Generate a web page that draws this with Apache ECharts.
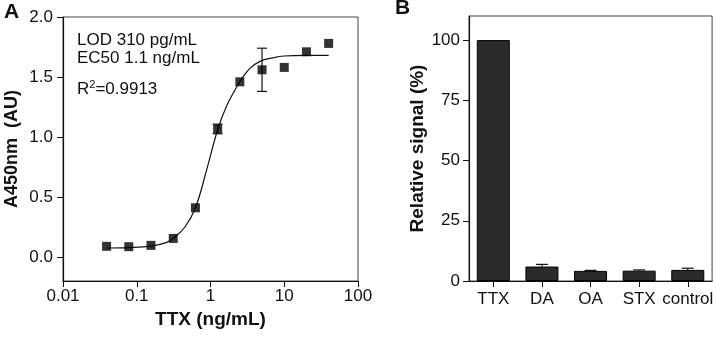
<!DOCTYPE html>
<html>
<head>
<meta charset="utf-8">
<script src="https://cdn.jsdelivr.net/npm/echarts@6/dist/echarts.min.js"></script>
<style>
  html, body { margin: 0; padding: 0; background: #fff; }
  #main { width: 716px; height: 338px; }
</style>
</head>
<body>
<div id="main"></div>
<script>
    // panel A - dose response
    var concX = [0.039, 0.078, 0.156, 0.3125, 0.625, 1.25, 2.5, 5, 10, 20, 40];
    var absorb = [0.089, 0.086, 0.097, 0.155, 0.41, 1.067, 1.46, 1.56, 1.58, 1.71, 1.78];
    var absorbErr = [0, 0, 0, 0, 0, 0.04, 0, 0.18, 0, 0, 0];
    // fitted curve
    var fitX = [0.039, 0.078, 0.156, 0.25, 0.3125, 0.45, 0.625, 0.89, 1.25, 1.66, 2.5, 3.4, 4.7, 7, 10, 20, 40];
    var fitY = [0.075, 0.078, 0.09, 0.12, 0.155, 0.25, 0.41, 0.73, 1.06, 1.26, 1.46, 1.57, 1.63, 1.66, 1.675, 1.68, 1.68];
    var xTicks = [0.01, 0.1, 1, 10, 100];
    var yTicksA = [0, 0.5, 1, 1.5, 2];

    // panel B - specificity
    var agents = ['TTX', 'DA', 'OA', 'STX', 'control'];
    var signal = [100, 6.0, 4.2, 4.3, 4.6];
    var signalErr = [0, 0.9, 0.2, 0.3, 0.7];
    var yTicksB = [0, 25, 50, 75, 100];

    var font = 'Liberation Sans, Arial, sans-serif';
    var chart = echarts.init(document.getElementById('main'));

    var fitData = fitX.map(function (x, i) { return [x, fitY[i]]; });
    var pointData = concX.map(function (x, i) { return [x, absorb[i], absorbErr[i]]; });
    var barErrData = agents.map(function (a, i) { return [i, signal[i], signalErr[i]]; });

    function errA(params, api) {
        var x = api.value(0), y = api.value(1), e = api.value(2);
        if (!e) return null;
        var top = api.coord([x, y + e]);
        var bot = api.coord([x, y - e]);
        var w = 5;
        var st = { stroke: '#111', lineWidth: 1.2 };
        return {
            type: 'group',
            children: [
                { type: 'line', shape: { x1: top[0], y1: top[1], x2: bot[0], y2: bot[1] }, style: st },
                { type: 'line', shape: { x1: top[0] - w, y1: top[1], x2: top[0] + w, y2: top[1] }, style: st },
                { type: 'line', shape: { x1: bot[0] - w, y1: bot[1], x2: bot[0] + w, y2: bot[1] }, style: st }
            ]
        };
    }

    function errB(params, api) {
        var i = api.value(0), y = api.value(1), e = api.value(2);
        if (!e) return null;
        var top = api.coord([i, y + e]);
        var mid = api.coord([i, y]);
        var w = 6;
        var st = { stroke: '#111', lineWidth: 1.2 };
        return {
            type: 'group',
            children: [
                { type: 'line', shape: { x1: top[0], y1: top[1], x2: mid[0], y2: mid[1] }, style: st },
                { type: 'line', shape: { x1: top[0] - w, y1: top[1], x2: top[0] + w, y2: top[1] }, style: st }
            ]
        };
    }

    var titleStyle = { fontSize: 18, fontWeight: 'bold', color: '#111', fontFamily: font };

    var option = {
        animation: false,
        textStyle: { fontFamily: font },
        grid: [
            { left: 63, right: 358, top: 17, bottom: 57, show: true, borderColor: '#444', borderWidth: 1 },
            { left: 469, right: 1, top: 16, bottom: 57, show: true, borderColor: '#444', borderWidth: 1 }
        ],
        xAxis: [
            {
                gridIndex: 0, type: 'log', logBase: 10, min: 0.01, max: 100,
                name: 'TTX (ng/mL)', nameLocation: 'middle', nameGap: 27,
                nameTextStyle: { fontSize: 19, fontWeight: 'bold', color: '#111', fontFamily: font },
                axisLine: { onZero: false, lineStyle: { color: '#111', width: 1.2 } },
                axisTick: { show: true, length: 6, lineStyle: { color: '#111' }, customValues: xTicks },
                axisLabel: {
                    fontSize: 17, color: '#111', margin: 7, customValues: xTicks,
                    formatter: function (v) { return String(v); }
                },
                splitLine: { show: false },
                minorTick: { show: false }
            },
            {
                gridIndex: 1, type: 'category', data: agents,
                axisLine: { onZero: false, lineStyle: { color: '#111', width: 1.2 } },
                axisTick: { show: true, alignWithLabel: true, length: 6, lineStyle: { color: '#111' } },
                axisLabel: { fontSize: 17, color: '#111', margin: 10, interval: 0 }
            }
        ],
        yAxis: [
            {
                gridIndex: 0, type: 'value', min: -0.2, max: 2.0,
                name: 'A450nm  (AU)', nameLocation: 'middle', nameGap: 42,
                nameTextStyle: titleStyle,
                axisLine: { show: true, lineStyle: { color: '#111', width: 1.2 } },
                axisTick: { show: true, length: 6, lineStyle: { color: '#111' }, customValues: yTicksA },
                axisLabel: {
                    fontSize: 17, color: '#111', margin: 10, customValues: yTicksA,
                    formatter: function (v) { return v.toFixed(1); }
                },
                splitLine: { show: false }
            },
            {
                gridIndex: 1, type: 'value', min: 0, max: 110,
                name: 'Relative signal (%)', nameLocation: 'middle', nameGap: 38,
                nameTextStyle: { fontSize: 19, fontWeight: 'bold', color: '#111', fontFamily: font },
                axisLine: { show: true, lineStyle: { color: '#111', width: 1.2 } },
                axisTick: { show: true, length: 6, lineStyle: { color: '#111' }, customValues: yTicksB },
                axisLabel: { fontSize: 17, color: '#111', margin: 9, customValues: yTicksB },
                splitLine: { show: false }
            }
        ],
        graphic: [
            { type: 'text', left: 4, top: 2, style: { text: 'A', font: 'bold 21px ' + font, fill: '#111' } },
            { type: 'text', left: 395, top: -2, style: { text: 'B', font: 'bold 21px ' + font, fill: '#111' } },
            { type: 'text', left: 77, top: 32, style: { text: 'LOD 310 pg/mL', font: '17px ' + font, fill: '#111' } },
            { type: 'text', left: 77, top: 50, style: { text: 'EC50 1.1 ng/mL', font: '17px ' + font, fill: '#111' } },
            {
                type: 'text', left: 77, top: 79,
                style: {
                    text: 'R{s|2}=0.9913', font: '17px ' + font, fill: '#111',
                    rich: { s: { fontSize: 11, verticalAlign: 'top', padding: [0, 0, 9, 0], fontFamily: font } }
                }
            }
        ],
        series: [
            {
                type: 'line', xAxisIndex: 0, yAxisIndex: 0, data: fitData,
                smooth: 0.4, showSymbol: false, symbol: 'none',
                lineStyle: { color: '#111', width: 1.2 }, z: 2
            },
            {
                type: 'custom', xAxisIndex: 0, yAxisIndex: 0, data: pointData,
                renderItem: errA, z: 3
            },
            {
                type: 'scatter', xAxisIndex: 0, yAxisIndex: 0, data: pointData,
                symbol: 'rect', symbolSize: 9, itemStyle: { color: '#000' }, z: 4
            },
            {
                type: 'bar', xAxisIndex: 1, yAxisIndex: 1, data: signal, barWidth: 33,
                itemStyle: { color: '#2b2b2b', borderColor: '#000', borderWidth: 1 }, z: 2
            },
            {
                type: 'custom', xAxisIndex: 1, yAxisIndex: 1, data: barErrData,
                renderItem: errB, z: 3
            }
        ]
    };
    chart.setOption(option);
</script>
</body>
</html>
